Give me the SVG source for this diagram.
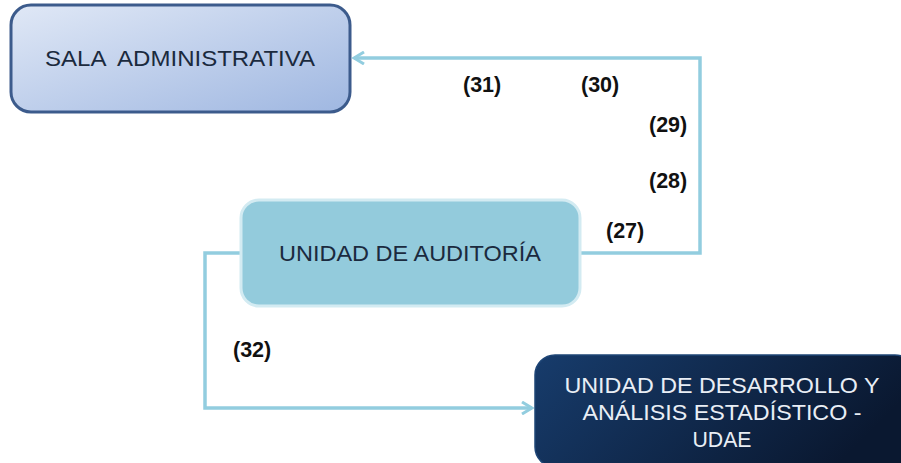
<svg xmlns="http://www.w3.org/2000/svg" width="901" height="463" viewBox="0 0 901 463">
<defs>
<linearGradient id="gSala" x1="0" y1="0" x2="1" y2="1">
<stop offset="0" stop-color="#e0e8f6"/>
<stop offset="1" stop-color="#9fb7e1"/>
</linearGradient>
<linearGradient id="gUdae" x1="0" y1="0" x2="1" y2="0.3">
<stop offset="0" stop-color="#173c6c"/>
<stop offset="1" stop-color="#0a1830"/>
</linearGradient>
<marker id="arr" markerWidth="14" markerHeight="14" refX="12" refY="7" orient="auto" markerUnits="userSpaceOnUse">
<path d="M2,1 L12,7 L2,13" fill="none" stroke="#92cddf" stroke-width="3"/>
</marker>
<style>
.lbl{font-family:"Liberation Sans",Arial,sans-serif;font-size:21.5px;font-weight:bold;fill:#111}
.nt{font-family:"Liberation Sans",Arial,sans-serif;font-size:21.5px;text-anchor:middle}
.con{fill:none;stroke:#92cddf;stroke-width:3.5}
</style>
</defs>
<g id="connectors">
<path class="con" d="M580,253 H700 V58 H354" marker-end="url(#arr)"/>
<path class="con" d="M240,253 H205 V408 H532" marker-end="url(#arr)"/>
</g>
<g id="sala">
<rect x="11" y="5" width="339" height="107" rx="20" fill="url(#gSala)" stroke="#3c5b8c" stroke-width="3"/>
<text class="nt" x="180" y="66" fill="#1b2a3e" textLength="270" lengthAdjust="spacingAndGlyphs" style="white-space:pre">SALA  ADMINISTRATIVA</text>
</g>
<g id="auditoria">
<rect x="241" y="200" width="339" height="106" rx="18" fill="#93cbdc" stroke="#d3ebf2" stroke-width="3"/>
<text class="nt" x="410" y="261" fill="#1b2a3e" textLength="262" lengthAdjust="spacingAndGlyphs">UNIDAD DE AUDITORÍA</text>
</g>
<g id="udae">
<rect x="535" y="355" width="380" height="112" rx="20" fill="url(#gUdae)" stroke="#1e4576" stroke-width="1.5"/>
<text class="nt" x="722" y="393" fill="#e9eef5" textLength="315" lengthAdjust="spacingAndGlyphs">UNIDAD DE DESARROLLO Y</text>
<text class="nt" x="722" y="420" fill="#e9eef5" textLength="279" lengthAdjust="spacingAndGlyphs">ANÁLISIS ESTADÍSTICO -</text>
<text class="nt" x="722" y="447" fill="#e9eef5" textLength="59" lengthAdjust="spacingAndGlyphs">UDAE</text>
</g>
<g id="labels">
<text class="lbl" x="463" y="92">(31)</text>
<text class="lbl" x="581" y="92">(30)</text>
<text class="lbl" x="649" y="132">(29)</text>
<text class="lbl" x="649" y="188">(28)</text>
<text class="lbl" x="606" y="238">(27)</text>
<text class="lbl" x="233" y="357">(32)</text>
</g>
</svg>
